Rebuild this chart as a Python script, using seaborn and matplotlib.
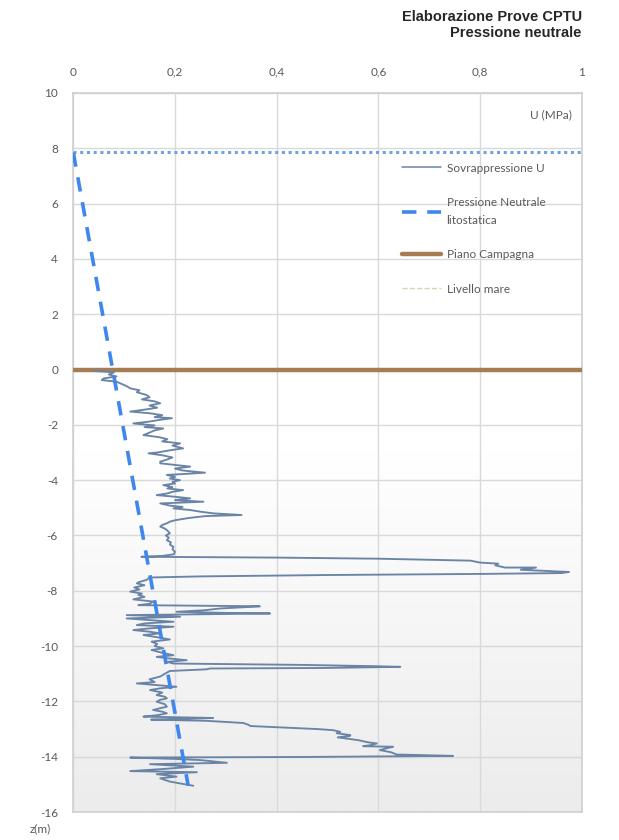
import numpy as np
import pandas as pd
import seaborn as sns
import matplotlib.pyplot as plt
from matplotlib.colors import LinearSegmentedColormap
from matplotlib.lines import Line2D

# --- data ---
x_ticks = [0, 0.2, 0.4, 0.6, 0.8, 1.0]
x_tick_labels = ["0", "0,2", "0,4", "0,6", "0,8", "1"]
y_ticks = [10, 8, 6, 4, 2, 0, -2, -4, -6, -8, -10, -12, -14, -16]
y_tick_labels = ["10", "8", "6", "4", "2", "0", "-2", "-4", "-6", "-8",
                 "-10", "-12", "-14", "-16"]

# measured pore pressure (Sovrappressione U), depth z (m) and u (MPa)
z_meas = [
    -0.05, -0.10, -0.18, -0.25, -0.32, -0.38, -0.44, -0.52, -0.60, -0.68,
    -0.75, -0.82, -0.92, -1.00, -1.08, -1.15, -1.22, -1.30, -1.38, -1.45,
    -1.52, -1.58, -1.65, -1.72, -1.76, -1.82, -1.88, -1.95, -2.02, -2.08,
    -2.13, -2.20, -2.28, -2.37, -2.45, -2.52, -2.60, -2.67, -2.75, -2.85,
    -2.92, -3.00, -3.03, -3.10, -3.18, -3.25, -3.33,
    -3.39, -3.45, -3.51, -3.58, -3.65, -3.73, -3.78, -3.81, -3.88, -3.94,
    -4.00, -4.06, -4.12, -4.18, -4.25, -4.30, -4.36, -4.42, -4.48, -4.54,
    -4.60, -4.66, -4.72, -4.78, -4.82, -4.84, -4.92, -4.97, -5.02, -5.08,
    -5.14, -5.20, -5.26, -5.30, -5.34, -5.38, -5.45, -5.50, -5.56, -5.62,
    -5.68, -5.75, -5.82, -5.92, -6.00, -6.08, -6.17, -6.25, -6.33, -6.41,
    -6.50, -6.59, -6.68, -6.74, -6.77,
    -6.78, -6.80, -6.84, -6.91, -6.98, -7.02, -7.08, -7.16, -7.16, -7.24,
    -7.28, -7.32, -7.36, -7.39, -7.43, -7.48, -7.52,
    -7.61, -7.68, -7.73, -7.80, -7.88, -7.95, -8.03, -8.10, -8.15, -8.22,
    -8.31, -8.39, -8.47, -8.52, -8.54, -8.56, -8.60, -8.64, -8.70, -8.76,
    -8.80, -8.82, -8.85, -8.88, -8.94, -9.00, -9.06, -9.12, -9.18, -9.24,
    -9.30, -9.36, -9.42, -9.48, -9.54, -9.60, -9.68, -9.76, -9.84, -9.92,
    -10.00, -10.08, -10.14, -10.22, -10.33, -10.39, -10.45, -10.51, -10.57,
    -10.63,
    -10.65, -10.68, -10.70, -10.73, -10.75, -10.79, -10.81, -10.84, -10.90,
    -11.00, -11.10, -11.20, -11.30, -11.35, -11.42, -11.47, -11.53, -11.59,
    -11.68, -11.77, -11.83, -11.89, -11.95, -12.01, -12.10, -12.19, -12.25,
    -12.31, -12.37, -12.43, -12.50, -12.55,
    -12.60, -12.63, -12.66, -12.70, -12.78, -12.85, -12.89, -12.95, -13.00,
    -13.04, -13.10, -13.15, -13.22, -13.25, -13.30, -13.40, -13.48, -13.52,
    -13.58, -13.62, -13.64, -13.70, -13.76, -13.84, -13.92, -13.97, -14.01,
    -14.03,
    -14.08, -14.12, -14.18, -14.22, -14.27, -14.32, -14.36, -14.44, -14.52,
    -14.54, -14.56, -14.63, -14.68, -14.72, -14.78, -14.84, -14.90, -14.98,
    -15.05,
]
u_meas = [
    0.040, 0.080, 0.070, 0.085, 0.060, 0.056, 0.085, 0.095, 0.105, 0.112,
    0.130, 0.125, 0.144, 0.150, 0.135, 0.160, 0.171, 0.150, 0.165, 0.140,
    0.112, 0.150, 0.175, 0.160, 0.194, 0.170, 0.150, 0.118, 0.160, 0.140,
    0.177, 0.160, 0.150, 0.138, 0.170, 0.185, 0.175, 0.210, 0.195, 0.216,
    0.190, 0.165, 0.148, 0.175, 0.195, 0.185, 0.171,
    0.171, 0.200, 0.230, 0.200, 0.215, 0.259, 0.215, 0.184, 0.200, 0.190,
    0.210, 0.195, 0.200, 0.177, 0.195, 0.185, 0.216, 0.195, 0.185, 0.164,
    0.200, 0.230, 0.200, 0.256, 0.200, 0.171, 0.190, 0.215, 0.197, 0.230,
    0.250, 0.275, 0.331, 0.260, 0.240, 0.223, 0.200, 0.190, 0.184, 0.175,
    0.171, 0.180, 0.185, 0.190, 0.182, 0.188, 0.184, 0.192, 0.190, 0.197,
    0.195, 0.200, 0.198, 0.175, 0.134,
    0.230, 0.400, 0.600, 0.781, 0.800, 0.836, 0.830, 0.849, 0.910, 0.880,
    0.930, 0.975, 0.960, 0.802, 0.500, 0.250, 0.150,
    0.144, 0.130, 0.125, 0.140, 0.120, 0.130, 0.112, 0.135, 0.128, 0.140,
    0.118, 0.157, 0.150, 0.128, 0.250, 0.367, 0.330, 0.289, 0.260, 0.203,
    0.300, 0.387, 0.250, 0.105, 0.210, 0.105, 0.150, 0.197, 0.140, 0.125,
    0.197, 0.150, 0.118, 0.150, 0.171, 0.138, 0.165, 0.190, 0.154, 0.165,
    0.160, 0.177, 0.154, 0.170, 0.197, 0.164, 0.190, 0.223, 0.184,
    0.197,
    0.300, 0.450, 0.511, 0.600, 0.643, 0.500, 0.269, 0.262, 0.190,
    0.180, 0.171, 0.150, 0.160, 0.125, 0.170, 0.203, 0.170, 0.151,
    0.175, 0.164, 0.180, 0.184, 0.170, 0.164, 0.180, 0.184, 0.170,
    0.157, 0.175, 0.184, 0.165, 0.138,
    0.275, 0.200, 0.153, 0.260, 0.334, 0.345, 0.348, 0.420, 0.480,
    0.511, 0.525, 0.518, 0.545, 0.544, 0.520, 0.560, 0.580, 0.597,
    0.585, 0.570, 0.629, 0.615, 0.603, 0.625, 0.636, 0.747, 0.450,
    0.112,
    0.200, 0.249, 0.280, 0.302, 0.151, 0.200, 0.236, 0.180, 0.112,
    0.180, 0.243, 0.164, 0.185, 0.203, 0.171, 0.180, 0.190, 0.215,
    0.236,
]

# hydrostatic line (Pressione Neutrale litostatica): end points
z_hydro = [7.85, -15.05]
u_hydro = [0.0, 0.226]

z_falda = 7.85       # water table, dotted blue
z_campagna = 0.0     # ground level
z_mare = 0.0         # sea level

df_meas = pd.DataFrame({"u": u_meas, "z": z_meas})
df_hydro = pd.DataFrame({"u": u_hydro, "z": z_hydro})

sns.set_style("white")
plt.rcParams["font.family"] = ["Lato", "DejaVu Sans"]

grey_txt = "#595959"
c_meas = "#6a84a6"
c_hydro = "#3f86ee"
c_campagna = "#a67c52"
c_mare = "#c9dcae"
c_falda = "#6fa3e0"

fig = plt.figure(figsize=(6.19, 8.40), dpi=100)
ax = fig.add_axes([0.1184, 0.0333, 0.8214, 0.856])

# soft vertical gradient in the plot area
cmap = LinearSegmentedColormap.from_list("bg", ["#ffffff", "#ffffff", "#ececec"])
grad = np.linspace(0, 1, 256).reshape(-1, 1)
ax.imshow(grad, cmap=cmap, aspect="auto", extent=[0, 1, 0, 1],
          transform=ax.transAxes, zorder=0)

ax.axhline(z_falda, color=c_falda, lw=2.2, ls=(0, (1, 1.2)), zorder=2)
ax.axhline(z_mare, color=c_mare, lw=1, ls="--", zorder=2)
ax.axhline(z_campagna, color=c_campagna, lw=3.2, zorder=3)

sns.lineplot(data=df_meas, x="u", y="z", sort=False, estimator=None,
             color=c_meas, lw=1.35, ax=ax, zorder=4)
sns.lineplot(data=df_hydro, x="u", y="z", sort=False, estimator=None,
             color=c_hydro, lw=2.6, dashes=False, ax=ax, zorder=5,
             linestyle=(0, (4, 3)))

ax.set_xlim(0, 1)
ax.set_ylim(-16, 10)
ax.set_xticks(x_ticks)
ax.set_xticklabels(x_tick_labels)
ax.set_yticks(y_ticks)
ax.set_yticklabels(y_tick_labels)
ax.xaxis.tick_top()
ax.tick_params(axis="both", length=0, pad=11, labelsize=8.5, labelcolor=grey_txt)
ax.grid(True, color="#d9d9d9", lw=1)
for s in ax.spines.values():
    s.set_color("#d0d0d0")
    s.set_linewidth(1.2)
ax.set_xlabel("")
ax.set_ylabel("")

ax.text(0.98, 0.97, "U (MPa)", transform=ax.transAxes, ha="right", va="center",
        fontsize=8.5, color=grey_txt)
fig.text(0.048, 0.013, "z(m)", ha="left", va="center", fontsize=8.5, color=grey_txt)

fig.text(0.94, 0.988, "Elaborazione Prove CPTU\nPressione neutrale",
         ha="right", va="top", fontsize=10.5, fontweight="bold",
         family="Liberation Sans", linespacing=1.2)

handles = [
    Line2D([], [], color=c_meas, lw=1.1),
    Line2D([], [], color=c_hydro, lw=2.6, ls=(0, (4, 3))),
    Line2D([], [], color=c_campagna, lw=3.2),
    Line2D([], [], color=c_mare, lw=1, ls="--"),
]
labels = ["Sovrappressione U", "Pressione Neutrale\nlitostatica",
          "Piano Campagna", "Livello mare"]
leg = ax.legend(handles, labels, loc="upper left", bbox_to_anchor=(0.625, 0.918),
                frameon=False, fontsize=8.5, handlelength=3.3, handletextpad=0.5,
                labelspacing=1.97, labelcolor=grey_txt)
leg.get_texts()[1].set_linespacing(1.8)

fig.savefig("out.png", dpi=100)
